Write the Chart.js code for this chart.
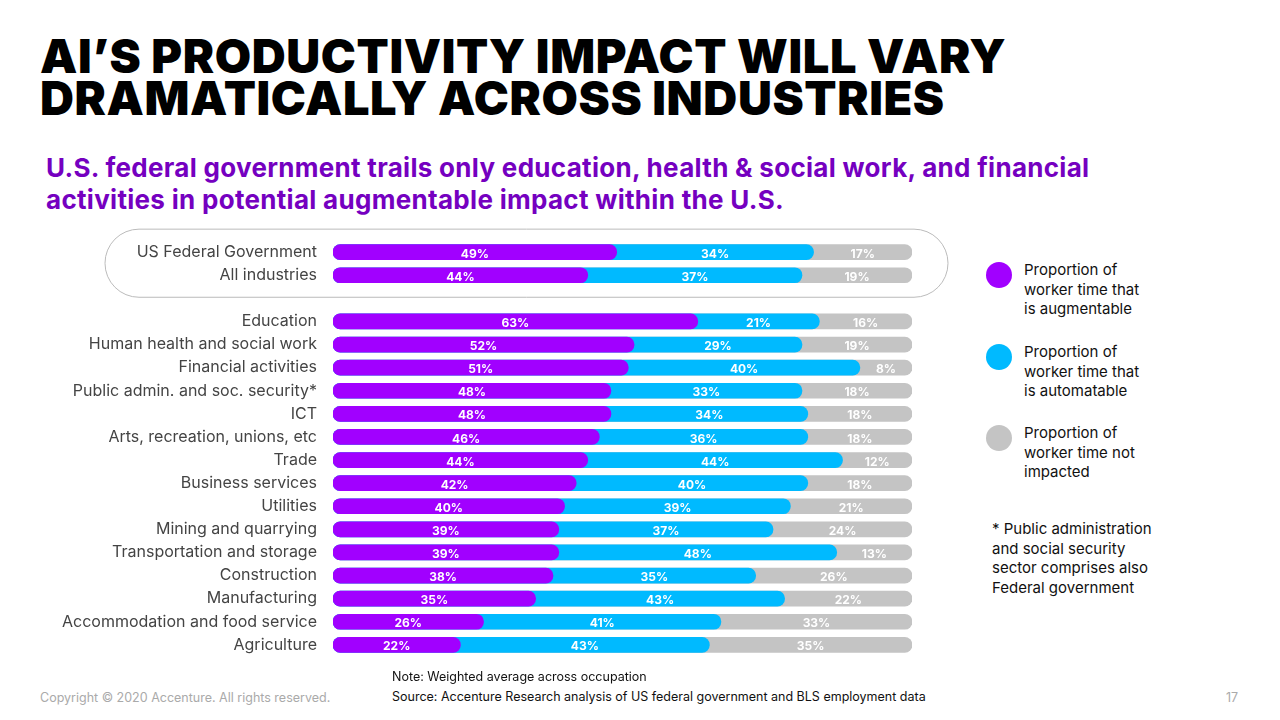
<!DOCTYPE html>
<html>
<head>
<meta charset="utf-8">
<script src="https://cdn.jsdelivr.net/npm/chart.js@4"></script>
<style>
  body { margin: 0; width: 1280px; height: 720px; background: #fff; font-family: Inter, "Noto Sans", sans-serif; position: relative; overflow: hidden; }
  h1 { position: absolute; left: 40px; top: 35px; margin: 0; font-size: 47px; line-height: 42px; font-weight: 900; color: #000; letter-spacing: 0.6px; }
  h2 { position: absolute; left: 46px; top: 152px; margin: 0; font-size: 26px; line-height: 32px; font-weight: 700; color: #7500C0; letter-spacing: 0.3px; }
  #wrap { position: absolute; left: 0; top: 223px; width: 960px; height: 451px; }
  .leg { position: absolute; left: 986px; font-size: 15px; line-height: 19.5px; color: #111; }
  .dot { position: absolute; left: 0; top: 2px; width: 26px; height: 26px; border-radius: 50%; }
  .leg span { display: block; margin-left: 38px; }
  .note { position: absolute; font-size: 12.5px; color: #111; }
  .gray { position: absolute; font-size: 12.5px; color: #aaa; }
</style>
</head>
<body>
<h1>AI’S PRODUCTIVITY IMPACT WILL VARY<br>DRAMATICALLY ACROSS INDUSTRIES</h1>
<h2>U.S. federal government trails only education, health &amp; social work, and financial<br>activities in potential augmentable impact within the U.S.</h2>
<div id="wrap"><canvas id="c"></canvas></div>

<div class="leg" style="top:260px"><div class="dot" style="background:#A100FF"></div><span>Proportion of<br>worker time that<br>is augmentable</span></div>
<div class="leg" style="top:342px"><div class="dot" style="background:#00BAFF"></div><span>Proportion of<br>worker time that<br>is automatable</span></div>
<div class="leg" style="top:423px"><div class="dot" style="background:#C4C4C4"></div><span>Proportion of<br>worker time not<br>impacted</span></div>
<div class="leg" style="top:519px; left:992px">* Public administration<br>and social security<br>sector comprises also<br>Federal government</div>

<div class="note" style="left:392px; top:669px">Note: Weighted average across occupation</div>
<div class="note" style="left:392px; top:689px">Source: Accenture Research analysis of US federal government and BLS employment data</div>
<div class="gray" style="left:40px; top:690px">Copyright © 2020 Accenture. All rights reserved.</div>
<div class="gray" style="left:1226px; top:690px">17</div>

<script>
const categories = ['US Federal Government', 'All industries', '', 'Education', 'Human health and social work',
  'Financial activities', 'Public admin. and soc. security*', 'ICT', 'Arts, recreation, unions, etc', 'Trade',
  'Business services', 'Utilities', 'Mining and quarrying', 'Transportation and storage', 'Construction',
  'Manufacturing', 'Accommodation and food service', 'Agriculture'];
const augmentable = [49, 44, null, 63, 52, 51, 48, 48, 46, 44, 42, 40, 39, 39, 38, 35, 26, 22];
const automatable = [34, 37, null, 21, 29, 40, 33, 34, 36, 44, 40, 39, 37, 48, 35, 43, 41, 43];
const notImpacted = [17, 19, null, 16, 19, 8, 18, 18, 18, 12, 18, 21, 24, 13, 26, 22, 33, 35];

// cumulative ends so segments can overlap with rounded ends; the grey remainder runs to 100%
const endAug = augmentable;
const endAuto = augmentable.map((v, i) => v == null ? null : v + automatable[i]);
const endAll = endAuto.map(v => v == null ? null : 100);

const segLabels = {
  id: 'segLabels',
  afterDatasetsDraw(chart) {
    const ctx = chart.ctx;
    const x = chart.scales.x;
    const sets = [[augmentable, () => 0, endAug], [automatable, i => endAug[i], endAuto], [notImpacted, i => endAuto[i], endAll]];
    ctx.save();
    ctx.fillStyle = '#fff';
    ctx.font = 'bold 12px Inter, sans-serif';
    ctx.textAlign = 'center';
    ctx.textBaseline = 'middle';
    sets.forEach(([vals, start, end], d) => {
      chart.getDatasetMeta(d).data.forEach((bar, i) => {
        if (vals[i] == null) return;
        const cx = (x.getPixelForValue(start(i)) + x.getPixelForValue(end[i])) / 2;
        ctx.fillText(vals[i] + '%', cx, bar.y + 2);
      });
    });
    // rounded box around the first group
    const y = chart.scales.y;
    const top = y.getPixelForValue(0) - 23, bot = y.getPixelForValue(1) + 22;
    ctx.strokeStyle = '#bbb';
    ctx.lineWidth = 1;
    ctx.beginPath();
    ctx.roundRect(105, top, 843, bot - top, 34);
    ctx.stroke();
    ctx.restore();
  }
};

const bar = (data, color) => ({
  data, backgroundColor: color, borderRadius: 8, borderSkipped: false,
  barThickness: 15
});

new Chart(document.getElementById('c'), {
  type: 'bar',
  data: {
    labels: categories,
    datasets: [bar(endAug, '#A100FF'), bar(endAuto, '#00BAFF'), bar(endAll, '#C4C4C4')]
  },
  options: {
    indexAxis: 'y',
    responsive: true,
    maintainAspectRatio: false,
    animation: false,
    layout: { padding: { right: 48 } },
    plugins: { legend: { display: false }, tooltip: { enabled: false } },
    scales: {
      x: { display: false, min: 0, max: 100, stacked: false },
      y: {
        stacked: true,
        grid: { display: false },
        border: { display: false },
        ticks: { color: '#444', font: { size: 16, family: 'Inter, sans-serif' }, padding: 8 },
        afterFit(s) { s.width = 333; }
      }
    }
  },
  plugins: [segLabels]
});
</script>
</body>
</html>
